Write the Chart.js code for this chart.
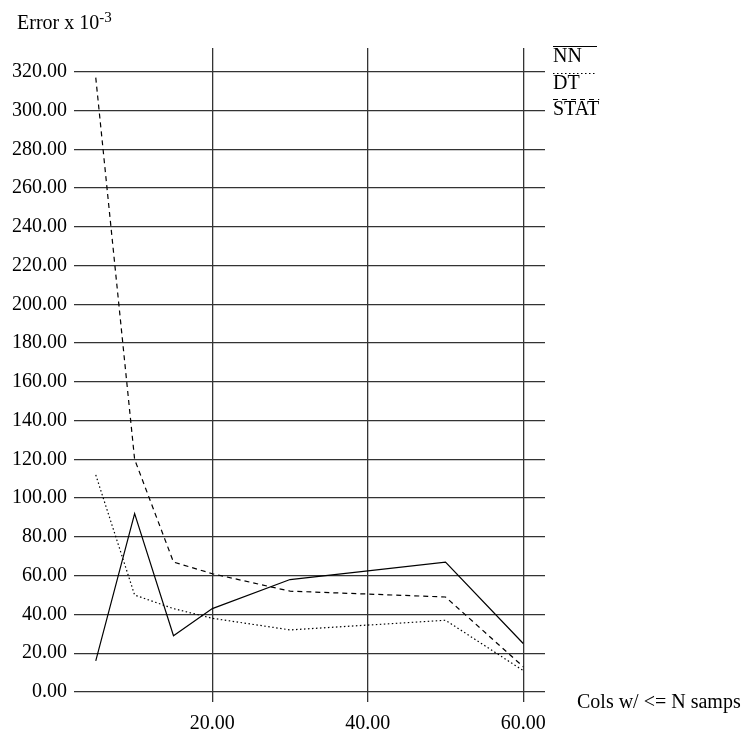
<!DOCTYPE html>
<html>
<head>
<meta charset="utf-8">
<script src="https://cdn.jsdelivr.net/npm/chart.js@4/dist/chart.umd.min.js"></script>
<style>
  html, body { margin: 0; padding: 0; background: #fff; }
  #wrap { position: relative; width: 742px; height: 733px; }
</style>
</head>
<body>
<div id="wrap"><canvas id="c" width="742" height="733"></canvas></div>
<script>
// Column-count thresholds (N) on the x axis
const samples = [5, 10, 15, 20, 30, 50, 60];

// Error (x 10^-3) per method
const nnErr   = [16, 92, 29, 43, 58, 67, 25];
const dtErr   = [112, 50, 43, 38, 32, 37, 11];
const statErr = [317, 120, 67, 61, 52, 49, 13];

// Tick values
const xTicks = [20, 40, 60];
const yTicks = [0, 20, 40, 60, 80, 100, 120, 140, 160, 180, 200, 220, 240, 260, 280, 300, 320];

const seriesNames = ['NN', 'DT', 'STAT'];

const FONT = '"Liberation Serif", "Times New Roman", serif';

const toPoints = (vals) => vals.map((v, i) => ({ x: samples[i], y: v }));

// Axis captions and the line-style key on the right
const decorations = {
  id: 'decorations',
  afterDraw(chart) {
    const ctx = chart.ctx;
    ctx.save();
    ctx.fillStyle = '#000';
    ctx.textBaseline = 'alphabetic';
    ctx.textAlign = 'left';

    // y axis caption with superscript
    ctx.font = '20px ' + FONT;
    const base = 'Error x 10';
    ctx.fillText(base, 17, 29);
    const w = ctx.measureText(base).width;
    ctx.font = '15px ' + FONT;
    ctx.fillText('-3', 17 + w, 22);

    // x axis caption
    ctx.font = '20px ' + FONT;
    ctx.fillText('Cols w/ <= N samps', 577, 708);

    // key
    const area = chart.chartArea;
    const kx = area.right + 8;
    const rows = [46, 73, 99];
    chart.data.datasets.forEach((ds, i) => {
      const y = rows[i];
      ctx.font = '20px ' + FONT;
      const tw = ctx.measureText(ds.label).width;
      const lineEnd = Math.max(kx + 44, kx + tw);
      ctx.strokeStyle = '#000';
      ctx.lineWidth = 1;
      ctx.setLineDash(ds.borderDash || []);
      ctx.beginPath();
      ctx.moveTo(kx, y + 0.5);
      ctx.lineTo(lineEnd, y + 0.5);
      ctx.stroke();
      ctx.setLineDash([]);
      ctx.fillText(ds.label, kx, y + 16);
    });
    ctx.restore();
  }
};

new Chart(document.getElementById('c'), {
  type: 'line',
  data: {
    datasets: [
      { label: seriesNames[0], data: toPoints(nnErr),   borderColor: '#000', borderWidth: 1.2, borderDash: [] },
      { label: seriesNames[1], data: toPoints(dtErr),   borderColor: '#000', borderWidth: 1.2, borderDash: [1.5, 2.5] },
      { label: seriesNames[2], data: toPoints(statErr), borderColor: '#000', borderWidth: 1.2, borderDash: [5, 4] }
    ]
  },
  options: {
    responsive: false,
    animation: false,
    events: [],
    layout: { padding: { left: 0, top: 48, right: 197, bottom: 0 } },
    elements: {
      point: { radius: 0 },
      line: { tension: 0, fill: false }
    },
    plugins: {
      legend: { display: false },
      tooltip: { enabled: false }
    },
    scales: {
      x: {
        type: 'linear',
        min: 2.2,
        max: 62.8,
        afterBuildTicks(scale) { scale.ticks = xTicks.map(v => ({ value: v })); },
        afterFit(scale) { scale.height = 31; },
        border: { display: false },
        grid: { color: '#333', lineWidth: 1.3, drawTicks: false },
        ticks: {
          padding: 10,
          maxRotation: 0,
          autoSkip: false,
          color: '#000',
          font: { family: FONT, size: 20 },
          callback: (v) => Number(v).toFixed(2)
        }
      },
      y: {
        type: 'linear',
        min: -5.2,
        max: 332.3,
        afterBuildTicks(scale) { scale.ticks = yTicks.map(v => ({ value: v })); },
        afterFit(scale) { scale.width = 74; },
        border: { display: false },
        grid: { color: '#333', lineWidth: 1.3, drawTicks: false },
        ticks: {
          padding: 7,
          autoSkip: false,
          color: '#000',
          font: { family: FONT, size: 20 },
          callback: (v) => Number(v).toFixed(2)
        }
      }
    }
  },
  plugins: [decorations]
});
</script>
</body>
</html>
